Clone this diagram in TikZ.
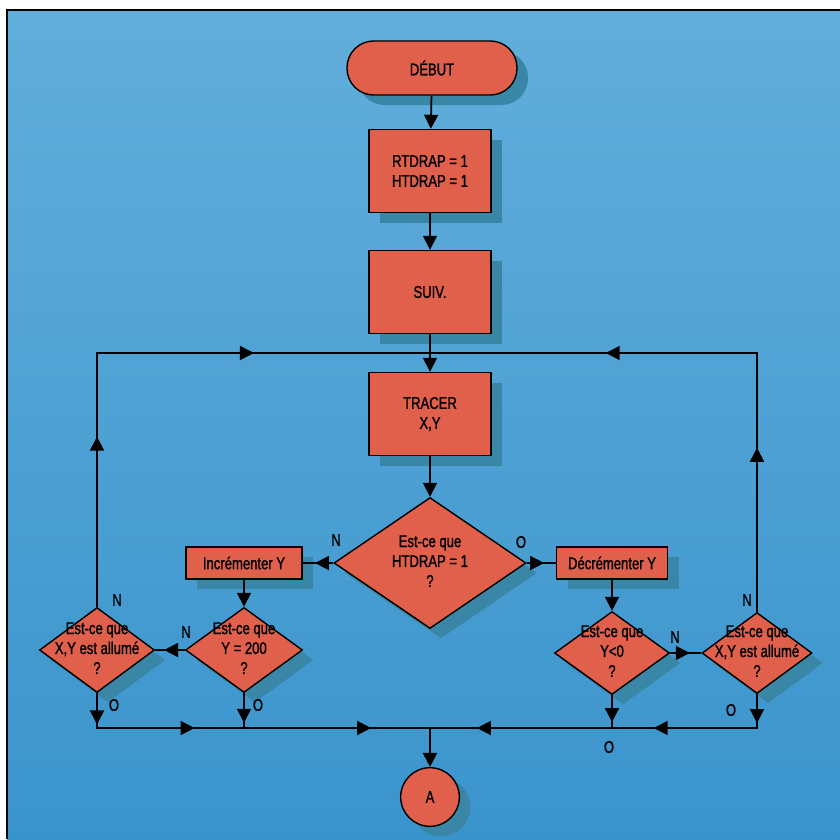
\documentclass[tikz,border=0pt]{standalone}
\usepackage{fontspec}
\setmainfont{Liberation Sans}[FakeStretch=0.77, FakeBold=1.2]
\usetikzlibrary{shapes.geometric, shadows, arrows.meta, decorations.markings}

\definecolor{fond}{HTML}{4A9FD2}
\definecolor{fondclair}{HTML}{62AEDB}
\definecolor{fondfonce}{HTML}{3A94CC}
\definecolor{ombre}{HTML}{3A86A6}
\definecolor{brique}{HTML}{E0604C}

% texte des losanges, sans largeur
\newcommand{\dtxt}[1]{\makebox[0pt]{\begin{tabular}{@{}c@{}}#1\end{tabular}}}

\begin{document}
\begin{tikzpicture}[
    x=0.03cm, y=-0.03cm,
    txt/.style={font=\fontsize{14.5}{17}\selectfont},
    ombrage/.style={drop shadow={shadow xshift=0.33cm, shadow yshift=-0.3cm, fill=ombre, opacity=1}},
    boite/.style={draw, line width=1.2pt, fill=brique, ombrage, txt, align=center, inner sep=0pt},
    bloc/.style={boite, minimum width=3.66cm, minimum height=2.49cm},
    rang/.style={boite, minimum height=0.97cm},
    losange/.style={boite, diamond, aspect=1.4},
    debutfin/.style={boite, minimum width=5.1cm, minimum height=1.62cm, rounded corners=0.8cm},
    cercle/.style={boite, circle, minimum size=1.76cm},
    lien/.style={line width=1.5pt},
    fleche/.style={lien, -{Triangle[length=0.42cm, width=0.42cm]}},
    pointe/.style={postaction={decorate, decoration={markings,
      mark=at position #1 with {\arrow{Triangle[length=0.42cm, width=0.42cm]}}}}}
  ]
  \useasboundingbox (0,0) rectangle (840,839);
  \fill[white] (0,0) rectangle (840,839);
  \shade[top color=fondclair, bottom color=fondfonce] (7,10) rectangle (840,839);
  \draw[line width=1.6pt] (7,839) -- (7,10) -- (840,10);

  % colonne centrale
  \node[debutfin] (debut) at (432,68) {DÉBUT};
  \node[bloc] (init) at (430,171) {RTDRAP = 1\\HTDRAP = 1};
  \node[bloc] (suiv) at (430,292) {SUIV.};
  \node[bloc] (tracer) at (430,414) {TRACER\\X,Y};
  \node[losange, minimum width=5.76cm, minimum height=3.93cm] (htdrap) at (430,563)
    {\dtxt{Est-ce que\\HTDRAP = 1\\?}};
  \node[cercle] (suite) at (430,797) {A};

  % branche gauche
  \node[rang, minimum width=3.48cm] (incr) at (244,563) {Incrémenter Y};
  \node[losange, minimum width=3.51cm, minimum height=2.55cm] (ymax) at (244,650)
    {\dtxt{Est-ce que\\Y = 200\\?}};
  \node[losange, minimum width=3.45cm, minimum height=2.55cm] (allumeg) at (97,650)
    {\dtxt{Est-ce que\\X,Y est allumé\\?}};

  % branche droite
  \node[rang, minimum width=3.33cm] (decr) at (612,563) {Décrémenter Y};
  \node[losange, minimum width=3.45cm, minimum height=2.49cm] (ymin) at (612,653)
    {\dtxt{Est-ce que\\Y<0\\?}};
  \node[losange, minimum width=3.3cm, minimum height=2.43cm] (allumed) at (757,653)
    {\dtxt{Est-ce que\\X,Y est allumé\\?}};

  % points de jonction
  \coordinate (jhaut) at (430,353);
  \coordinate (chg) at (97,353);
  \coordinate (chd) at (757,353);
  \coordinate (jbas) at (430,728);
  \coordinate (cbg) at (97,728);
  \coordinate (cbd) at (757,728);
  \coordinate (jg) at (244,728);
  \coordinate (jd) at (612,728);

  \draw[fleche] (debut) -- (init);
  \draw[fleche] (init) -- (suiv);
  \draw[fleche] (suiv) -- (tracer);
  \draw[fleche] (tracer) -- (htdrap);
  \draw[lien, pointe=0.6] (htdrap.west) -- (incr.east);
  \draw[lien, pointe=0.6] (htdrap.east) -- (decr.west);
  \draw[fleche] (incr) -- (ymax);
  \draw[fleche] (decr) -- (ymin);
  \draw[lien, pointe=0.7] (ymax.west) -- (allumeg.east);
  \draw[lien, pointe=0.63] (ymin.east) -- (allumed.west);

  % boucles vers SUIV.
  \draw[lien, pointe=0.29, pointe=0.7] (allumeg.north) -- (chg) -- (jhaut);
  \draw[lien, pointe=0.28, pointe=0.7] (allumed.north) -- (chd) -- (jhaut);

  % sorties vers A
  \draw[lien, pointe=0.085, pointe=0.36, pointe=0.84] (allumeg.south) -- (cbg) -- (jbas);
  \draw[lien, pointe=0.85] (ymax.south) -- (jg);
  \draw[lien, pointe=0.08, pointe=0.38, pointe=0.87] (allumed.south) -- (cbd) -- (jbas);
  \draw[lien, pointe=0.82] (ymin.south) -- (jd);
  \draw[fleche] (jbas) -- (suite);

  % etiquettes O / N
  \node[txt] (nhtdrap) at (336,540) {N};
  \node[txt] (ohtdrap) at (521,542) {O};
  \node[txt] (nallumeg) at (117,600) {N};
  \node[txt] (nymax) at (186,632) {N};
  \node[txt] (oallumeg) at (114,705) {O};
  \node[txt] (oymax) at (258,705) {O};
  \node[txt] (nymin) at (675,637) {N};
  \node[txt] (nallumed) at (747,600) {N};
  \node[txt] (oallumed) at (731,710) {O};
  \node[txt] (oymin) at (609,747) {O};
\end{tikzpicture}
\end{document}
